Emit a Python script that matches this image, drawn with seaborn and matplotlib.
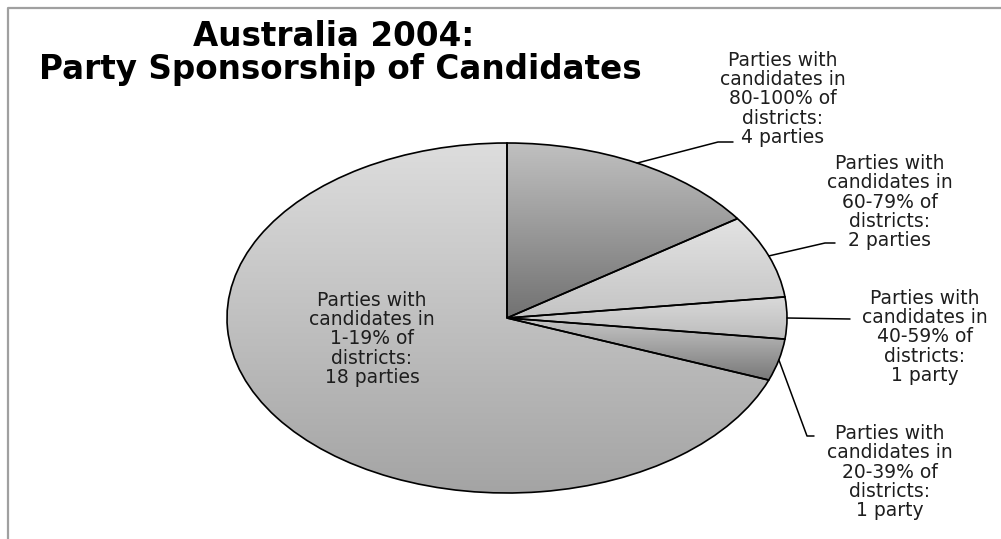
import numpy as np
import matplotlib
matplotlib.use("Agg")
import matplotlib.pyplot as plt
import seaborn as sns

# ---- data -------------------------------------------------------------
categories = ["80-100%", "60-79%", "40-59%", "20-39%", "1-19%"]
party_counts = [4, 2, 1, 1, 18]
count_words = ["4 parties", "2 parties", "1 party", "1 party", "18 parties"]
title_lines = ["Australia 2004:", "Party Sponsorship of Candidates"]

# vertical gradient per slice (top colour, bottom colour)
shade_top = ["#c0c0c0", "#e3e3e3", "#dadada", "#c8c8c8", "#dddddd"]
shade_bottom = ["#727272", "#c4c4c4", "#bcbcbc", "#787878", "#a4a4a4"]

# ---- layout (pixels) --------------------------------------------------
W, H = 1001, 539
CX, CY, RX, RY = 507, 318, 280, 175
# label block centres
label_pos = [(783, 99), (890, 202), (925, 337), (890, 472), (372, 339)]
# leader polylines after the slice anchor point (None = label sits inside)
leader_tail = [
    [(718, 142), (733, 142)],
    [(825, 243), (835, 243)],
    [(850, 319)],
    [(807, 436), (814, 436)],
    None,
]

sns.set_theme(style="white")
plt.rcParams["font.family"] = ["DejaVu Sans"]

fig = plt.figure(figsize=(W / 100, H / 100), dpi=100)
fig.patch.set_facecolor("white")

# pie axes stretched to an ellipse
pie_ax = fig.add_axes([(CX - RX) / W, (H - CY - RY) / H, 2 * RX / W, 2 * RY / H])
wedges, _ = pie_ax.pie(
    party_counts, startangle=90, counterclock=False, radius=1,
    wedgeprops=dict(facecolor="none", edgecolor="black", linewidth=1.2),
)
grad = np.linspace(0, 1, 256).reshape(-1, 1)
for w, top, bot in zip(wedges, shade_top, shade_bottom):
    cmap = sns.blend_palette([top, bot], as_cmap=True)
    ext = w.get_path().get_extents()
    im = pie_ax.imshow(grad, cmap=cmap, aspect="auto", origin="upper",
                       extent=[ext.x0, ext.x1, ext.y0, ext.y1],
                       interpolation="bilinear", zorder=0.5)
    im.set_clip_path(w)
    w.set_clip_on(False)
    w.set_zorder(2)
pie_ax.set_aspect("auto")
pie_ax.set_xlim(-1, 1)
pie_ax.set_ylim(-1, 1)
pie_ax.axis("off")

# overlay in pixel coordinates for text, leaders and frame
ov = fig.add_axes([0, 0, 1, 1], facecolor="none")
ov.set_xlim(0, W)
ov.set_ylim(H, 0)
ov.axis("off")

ov.plot([8, 8, W], [H, 8, 8], color="#a0a0a0", lw=1.6, solid_capstyle="butt")

ov.text(334, 46, title_lines[0], ha="center", va="baseline",
        fontsize=23.5, fontweight="bold", color="black")
ov.text(340, 79, title_lines[1], ha="center", va="baseline",
        fontsize=23.5, fontweight="bold", color="black")

to_ov = ov.transData.inverted()
for w, cat, cw, (tx, ty), tail in zip(wedges, categories, count_words,
                                      label_pos, leader_tail):
    txt = f"Parties with\ncandidates in\n{cat} of\ndistricts:\n{cw}"
    ov.text(tx, ty, txt, ha="center", va="center", multialignment="center",
            fontsize=13.5, linespacing=1.03, color="#1e1e1e")
    if tail is not None:
        mid = np.deg2rad((w.theta1 + w.theta2) / 2)
        sx, sy = to_ov.transform(pie_ax.transData.transform((np.cos(mid), np.sin(mid))))
        xs = [sx] + [p[0] for p in tail]
        ys = [sy] + [p[1] for p in tail]
        ov.plot(xs, ys, color="black", lw=1.1)

fig.savefig("out.png", dpi=100)
